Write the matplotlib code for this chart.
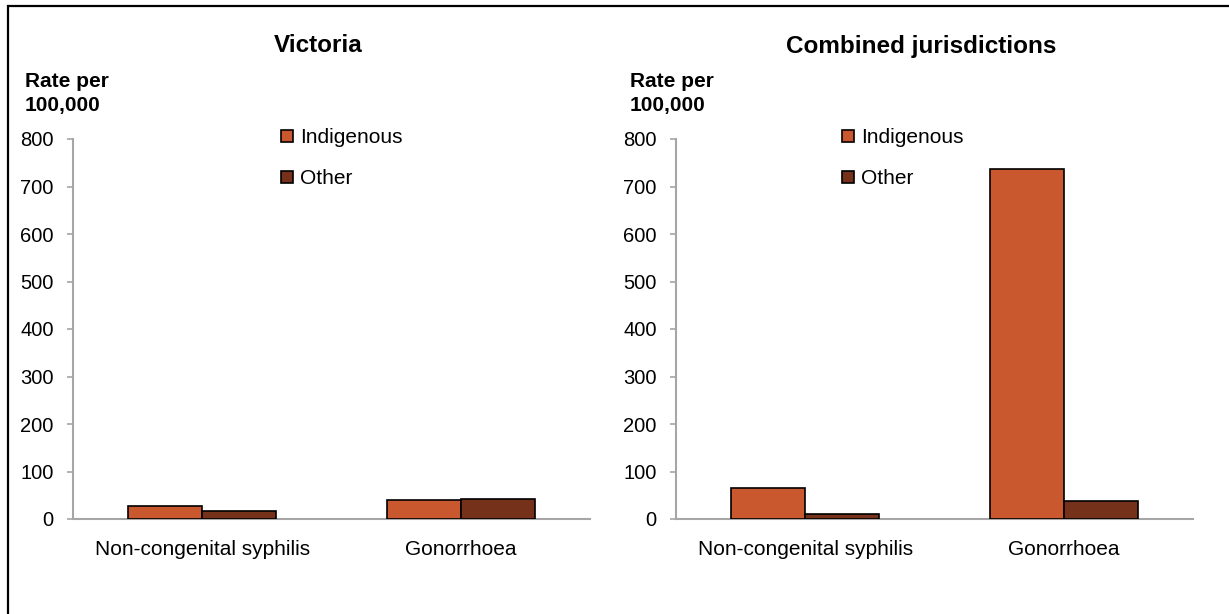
import matplotlib
matplotlib.use("Agg")
import matplotlib.pyplot as plt
import numpy as np
from matplotlib.lines import Line2D
from matplotlib.patches import Rectangle

CATEGORIES = ["Non-congenital syphilis", "Gonorrhoea"]
SERIES = ["Indigenous", "Other"]
PANEL_TITLES = ["Victoria", "Combined jurisdictions"]
VICTORIA_INDIGENOUS = [27, 39]
VICTORIA_OTHER = [17, 43]
COMBINED_INDIGENOUS = [65, 737]
COMBINED_OTHER = [11, 38]
Y_TICKS = [0, 100, 200, 300, 400, 500, 600, 700, 800]
Y_LABEL = "Rate per\n100,000"

COLORS = ["#C9582E", "#76311B"]
AXIS_GREY = "#A6A6A6"
BAR_WIDTH = 0.286

plt.rcParams["font.family"] = ["Liberation Sans", "DejaVu Sans"]


def draw_panel(fig, rect, indigenous, other, title, title_x, ylabel_x, legend_x):
    ax = fig.add_axes(rect)
    x = np.arange(len(CATEGORIES))
    for vals, color, offset in zip([indigenous, other], COLORS, [-0.5, 0.5]):
        ax.bar(x + offset * BAR_WIDTH, vals, width=BAR_WIDTH, color=color,
               edgecolor="black", linewidth=1.2, zorder=3)

    ax.set_xlim(-0.5, len(CATEGORIES) - 0.5)
    ax.set_ylim(0, 800)
    ax.set_yticks(Y_TICKS)
    ax.set_xticks(x)
    ax.set_xticklabels(CATEGORIES, fontsize=15)
    ax.tick_params(axis="x", length=0, pad=15)
    ax.tick_params(axis="y", length=4, width=1.2, color=AXIS_GREY, pad=10, labelsize=14.5)
    for side in ["top", "right"]:
        ax.spines[side].set_visible(False)
    for side in ["left", "bottom"]:
        ax.spines[side].set_color(AXIS_GREY)
        ax.spines[side].set_linewidth(1.5)

    fig.text(title_x, 1 - 46 / 614, title, fontsize=17.5, fontweight="bold",
             ha="center", va="center")
    fig.text(ylabel_x, 1 - 72 / 614, Y_LABEL, fontsize=15, fontweight="bold",
             ha="left", va="top", linespacing=1.35)

    handles = [Line2D([], [], linestyle="none", marker="s", markersize=8,
                      markerfacecolor=c, markeredgecolor="black", markeredgewidth=1.2)
               for c in COLORS]
    fig.legend(handles, SERIES, loc="upper left", bbox_to_anchor=(legend_x, 1 - 128 / 614),
               frameon=False, fontsize=15, handlelength=0.6, handletextpad=0.3,
               labelspacing=1.05, borderpad=0, borderaxespad=0)
    return ax


fig = plt.figure(figsize=(12.29, 6.14), dpi=100)
W, H = 1229, 614
bottom = 1 - 519 / H
height = (519 - 139) / H
width = 517 / W

draw_panel(fig, [73 / W, bottom, width, height], VICTORIA_INDIGENOUS, VICTORIA_OTHER,
           PANEL_TITLES[0], 318 / W, 25 / W, 281 / W)
draw_panel(fig, [676 / W, bottom, width, height], COMBINED_INDIGENOUS, COMBINED_OTHER,
           PANEL_TITLES[1], 921 / W, 630 / W, 842 / W)

# outer frame, cut off at the right and bottom edges
fig.patches.append(Rectangle((8 / W, -0.1), 1.2, (1 - 6 / H) + 0.1, transform=fig.transFigure,
                             fill=False, edgecolor="black", linewidth=1.6))

fig.savefig("out.png", dpi=100)
